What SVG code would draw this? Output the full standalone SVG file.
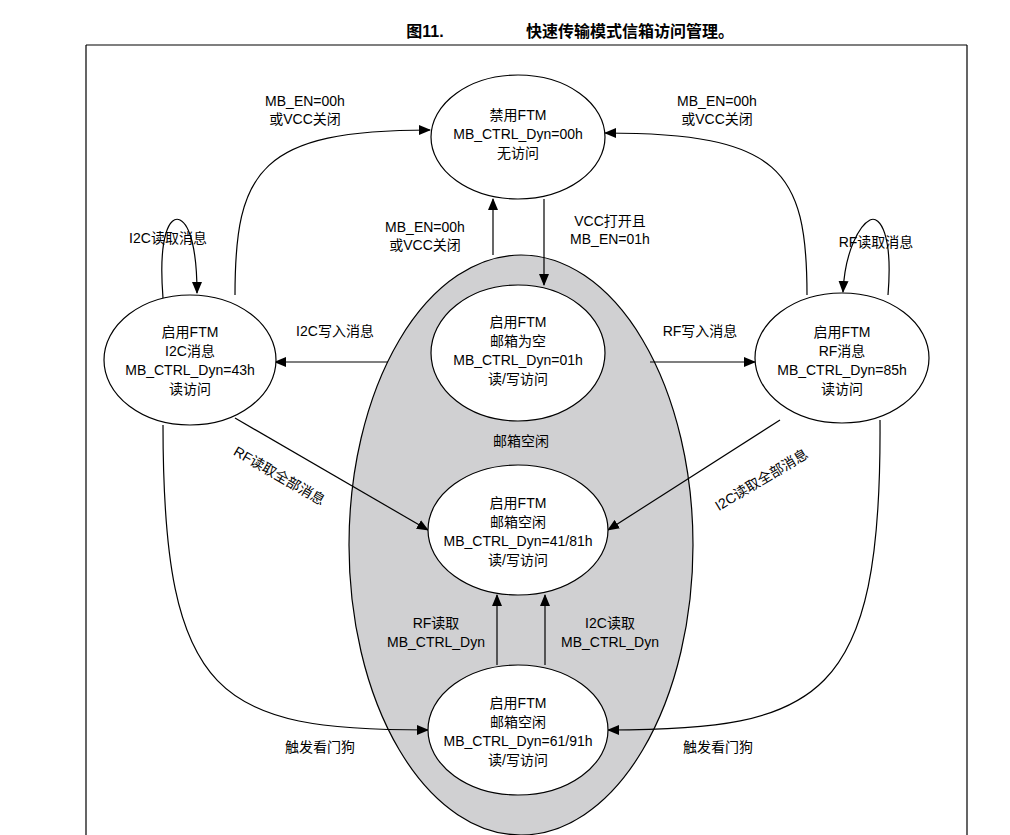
<svg xmlns="http://www.w3.org/2000/svg" width="1010" height="835" viewBox="0 0 1010 835">
<defs>
<marker id="ah" markerWidth="12" markerHeight="10" refX="11" refY="5" orient="auto" markerUnits="userSpaceOnUse"><path d="M0,0 L12,5 L0,10 Z" fill="#000"/></marker>
<style>
text{font-family:"Liberation Sans","Noto Sans CJK SC",sans-serif;font-size:14px;fill:#000;text-anchor:middle}
.n{fill:#fff;stroke:#000;stroke-width:1.2}
.c{fill:none;stroke:#000;stroke-width:1.2;marker-end:url(#ah)}
.t{font-size:16px;font-weight:bold}
</style>
</defs>
<rect width="1010" height="835" fill="#fff"/>
<text class="t" x="425" y="37">图11.</text>
<text class="t" x="630" y="37">快速传输模式信箱访问管理。</text>
<path d="M86,45 H967 M86,45 V835 M967,45 V835" stroke="#000" stroke-width="1.2" fill="none"/>
<g id="region"><ellipse cx="521" cy="545" rx="172" ry="290" fill="#d0d0d2" stroke="#000" stroke-width="1.2"/><text x="521" y="446">邮箱空闲</text></g>
<g id="connectors">
<path class="c" d="M235,295 C235,170 260,130 430,130"/>
<path class="c" d="M807,295 C807,170 780,133 605,133"/>
<path class="c" d="M163,298 C158,235 170,215 180,220 C190,225 197,250 197,293"/>
<path class="c" d="M888,295 C893,235 880,215 870,220 C860,225 845,250 843,292"/>
<path class="c" d="M493,255 V199"/>
<path class="c" d="M544,199 V285"/>
<path class="c" d="M388,362 H275"/>
<path class="c" d="M650,362 H755"/>
<path class="c" d="M235,418 L428,530"/>
<path class="c" d="M780,420 L608,530"/>
<path class="c" d="M497,665 V595"/>
<path class="c" d="M545,665 V595"/>
<path class="c" d="M163,425 C163,700 220,730 428,730"/>
<path class="c" d="M880,420 C882,700 820,730 608,730"/>
<text x="305" y="106">MB_EN=00h</text><text x="305" y="124">或VCC关闭</text>
<text x="717" y="106">MB_EN=00h</text><text x="717" y="124">或VCC关闭</text>
<text x="168" y="243">I2C读取消息</text>
<text x="876" y="247">RF读取消息</text>
<text x="425" y="232">MB_EN=00h</text><text x="425" y="250">或VCC关闭</text>
<text x="610" y="226">VCC打开且</text><text x="610" y="244">MB_EN=01h</text>
<text x="335" y="336">I2C写入消息</text>
<text x="700" y="336">RF写入消息</text>
<text transform="translate(277,480) rotate(30)">RF读取全部消息</text>
<text transform="translate(764,484) rotate(-31)">I2C读取全部消息</text>
<text x="436" y="628">RF读取</text><text x="436" y="647">MB_CTRL_Dyn</text>
<text x="610" y="628">I2C读取</text><text x="610" y="647">MB_CTRL_Dyn</text>
<text x="320" y="752">触发看门狗</text>
<text x="718" y="752">触发看门狗</text>
</g>
<g id="n_disabled"><ellipse class="n" cx="518" cy="137" rx="87" ry="62"/><text x="518" y="120">禁用FTM</text><text x="518" y="139">MB_CTRL_Dyn=00h</text><text x="518" y="158">无访问</text></g>
<g id="n_i2c"><ellipse class="n" cx="190" cy="360" rx="86" ry="65"/><text x="190" y="337">启用FTM</text><text x="190" y="356">I2C消息</text><text x="190" y="375">MB_CTRL_Dyn=43h</text><text x="190" y="394">读访问</text></g>
<g id="n_rf"><ellipse class="n" cx="842" cy="358" rx="87" ry="65"/><text x="842" y="337">启用FTM</text><text x="842" y="356">RF消息</text><text x="842" y="375">MB_CTRL_Dyn=85h</text><text x="842" y="394">读访问</text></g>
<g id="n_empty"><ellipse class="n" cx="518" cy="353" rx="87" ry="68"/><text x="518" y="327">启用FTM</text><text x="518" y="346">邮箱为空</text><text x="518" y="365">MB_CTRL_Dyn=01h</text><text x="518" y="384">读/写访问</text></g>
<g id="n_idle1"><ellipse class="n" cx="518" cy="530" rx="90" ry="65"/><text x="518" y="508">启用FTM</text><text x="518" y="527">邮箱空闲</text><text x="518" y="546">MB_CTRL_Dyn=41/81h</text><text x="518" y="565">读/写访问</text></g>
<g id="n_idle2"><ellipse class="n" cx="518" cy="730" rx="90" ry="65"/><text x="518" y="708">启用FTM</text><text x="518" y="727">邮箱空闲</text><text x="518" y="746">MB_CTRL_Dyn=61/91h</text><text x="518" y="765">读/写访问</text></g>
</svg>
